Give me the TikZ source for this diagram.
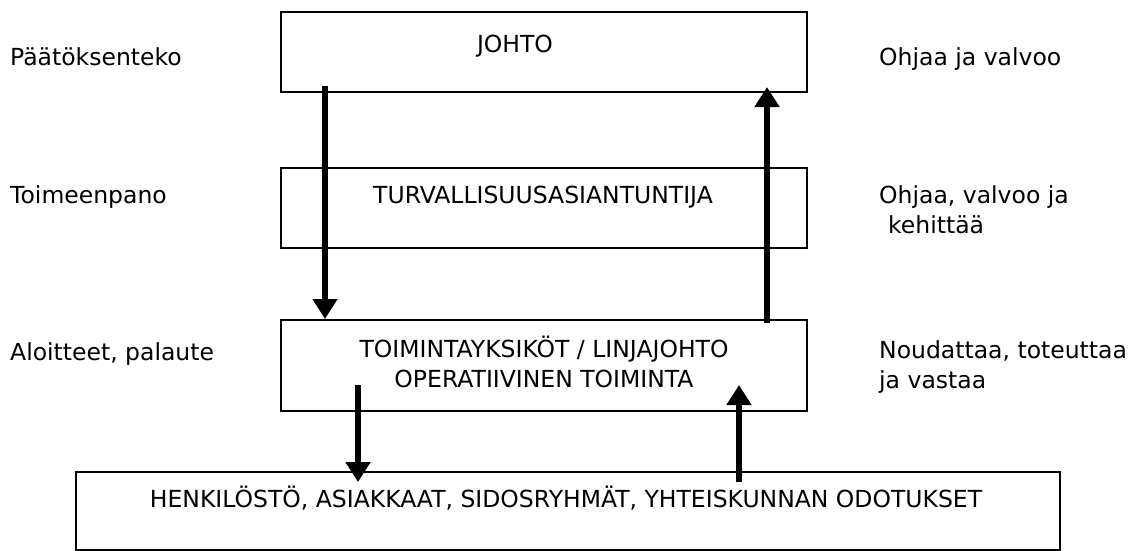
\documentclass[tikz,border=0pt]{standalone}
\usepackage{fontspec}
\setmainfont{DejaVu Sans}
\usetikzlibrary{arrows.meta}

\tikzset{
  box/.style={draw=black, line width=1.8pt, fill=white, inner sep=0pt, anchor=north west},
  txt/.style={inner sep=0pt, font=\fontsize{23.5}{30}\selectfont},
  side/.style={txt, anchor=base west, align=left},
  flow/.style={line width=6pt, -{Triangle[width=24pt 0,length=20pt 0]}},
}

\begin{document}
\begin{tikzpicture}[x=1pt, y=-1pt]
  \useasboundingbox (0,0) rectangle (1146,550);

  % boxes
  \node[box, minimum width=526pt, minimum height=80pt] (johto) at (280,11) {};
  \node[box, minimum width=526pt, minimum height=80pt] (turva) at (280,167) {};
  \node[box, minimum width=526pt, minimum height=91pt] (toim)  at (280,319) {};
  \node[box, minimum width=984pt, minimum height=78pt] (sidos) at (75,471) {};

  % box texts
  \node[txt, anchor=base] (tJ) at (515,52) {JOHTO};
  \node[txt, anchor=base] (tT) at (543,203) {TURVALLISUUSASIANTUNTIJA};
  \node[txt, anchor=base] (tO1) at (544,357) {TOIMINTAYKSIKÖT / LINJAJOHTO};
  \node[txt, anchor=base] (tO2) at (544,387) {OPERATIIVINEN TOIMINTA};
  \node[txt, anchor=base] (tS) at (566,507) {HENKILÖSTÖ, ASIAKKAAT, SIDOSRYHMÄT, YHTEISKUNNAN ODOTUKSET};

  % left column
  \node[side] (l1) at (10,65)  {Päätöksenteko};
  \node[side] (l2) at (10,203) {Toimeenpano};
  \node[side] (l3) at (10,360) {Aloitteet, palaute};

  % right column
  \node[side] (r1) at (879,65)  {Ohjaa ja valvoo};
  \node[side] (r2a) at (879,203) {Ohjaa, valvoo ja};
  \node[side] (r2b) at (888,233) {kehittää};
  \node[side] (r3a) at (879,358) {Noudattaa, toteuttaa};
  \node[side] (r3b) at (879,388) {ja vastaa};

  % arrow ends
  \coordinate (d1) at (325,86);
  \coordinate (u1) at (767,323);
  \coordinate (u1t) at (767,87);
  \coordinate (d2) at (358,385);
  \coordinate (d2t) at (358,482);
  \coordinate (u2) at (739,482);
  \coordinate (u2t) at (739,385);

  % arrows
  \draw[flow] (d1) -- (d1 |- toim.north);
  \draw[flow] (u1) -- (u1t);
  \draw[flow] (d2) -- (d2t);
  \draw[flow] (u2) -- (u2t);
\end{tikzpicture}
\end{document}
